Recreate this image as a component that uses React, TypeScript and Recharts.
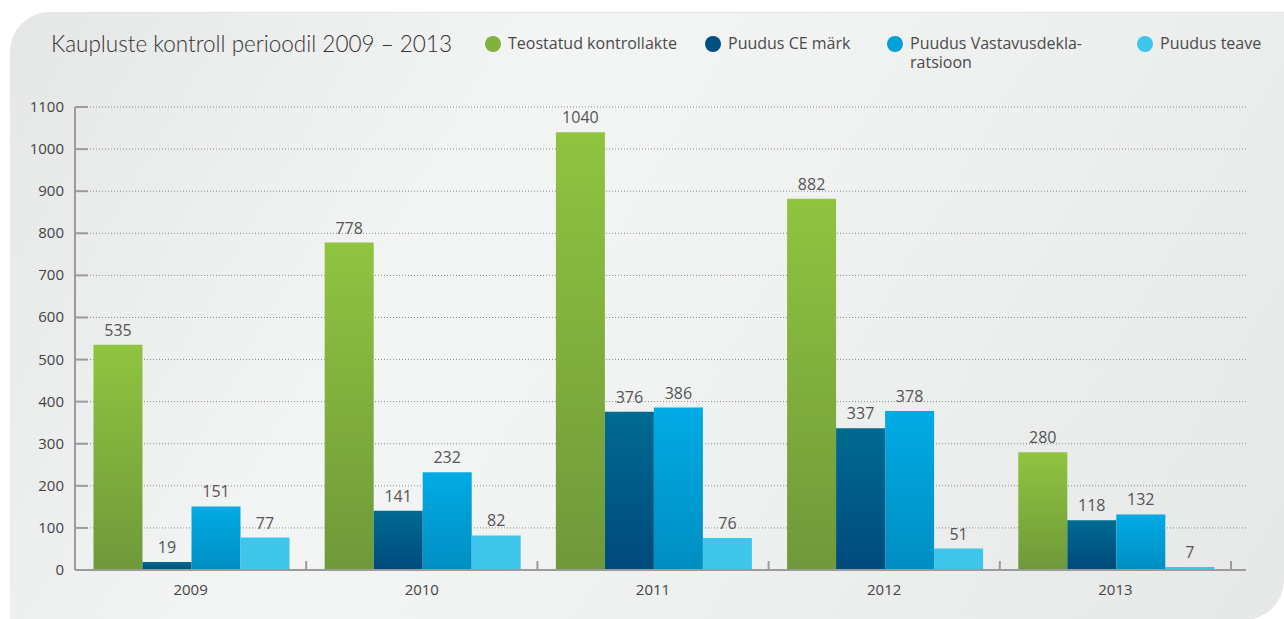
import React from 'react';
import { BarChart, Bar, XAxis, YAxis, CartesianGrid, LabelList } from 'recharts';

const years = ['2009', '2010', '2011', '2012', '2013'];
const kontrollakte = [535, 778, 1040, 882, 280];
const ceMark = [19, 141, 376, 337, 118];
const vastavus = [151, 232, 386, 378, 132];
const teave = [77, 82, 76, 51, 7];
const yTicks = [0, 100, 200, 300, 400, 500, 600, 700, 800, 900, 1000, 1100];

const series = [
  { key: 'kontrollakte', name: 'Teostatud kontrollakte', color: '#7fb13c', fill: 'url(#gGreen)' },
  { key: 'ceMark', name: 'Puudus CE märk', color: '#004f7f', fill: 'url(#gDark)' },
  { key: 'vastavus', name: 'Puudus Vastavusdekla-\nratsioon', color: '#00a0d8', fill: 'url(#gBlue)' },
  { key: 'teave', name: 'Puudus teave', color: '#3ec5ec', fill: '#3ec5ec' },
];

const data = years.map((year, i) => ({
  year,
  kontrollakte: kontrollakte[i],
  ceMark: ceMark[i],
  vastavus: vastavus[i],
  teave: teave[i],
}));

const W = 1284;
const H = 619;
const MARGIN = { top: 107, right: 38, bottom: 19, left: 0 };
const Y_W = 75;
const X_PAD_RIGHT = 15;
const HALF_BAND = (W - MARGIN.left - MARGIN.right - Y_W - X_PAD_RIGHT) / years.length / 2;

const FONT = '"Open Sans", sans-serif';
const AXIS = '#9b9b9b';

const YTick = (props: any) => {
  const { x, y, payload } = props;
  return (
    <g>
      <line x1={x + 11} x2={x + 24} y1={y} y2={y} stroke={AXIS} strokeWidth={2} />
      <text x={x} y={y} dy={5} textAnchor="end" fill="#444" fontSize={15} fontFamily={FONT}>
        {payload.value}
      </text>
    </g>
  );
};

const XTick = (props: any) => {
  const { x, y, payload } = props;
  return (
    <g>
      <line x1={x + HALF_BAND} x2={x + HALF_BAND} y1={y - 9} y2={y} stroke={AXIS} strokeWidth={2} />
      <text x={x} y={y} dy={25} textAnchor="middle" fill="#444" fontSize={15} fontFamily={FONT}>
        {payload.value}
      </text>
    </g>
  );
};

const itemWidths = [220, 182, 250, 140];

const LegendBox = () => (
  <div
    style={{
      position: 'absolute',
      left: 485,
      top: 34,
      display: 'flex',
      fontFamily: FONT,
      fontSize: 16,
      color: '#4a4a4a',
      lineHeight: '19px',
    }}
  >
    {series.map((s, i) => (
      <div key={s.key} style={{ width: itemWidths[i], display: 'flex', alignItems: 'flex-start', whiteSpace: 'nowrap' }}>
        <span
          style={{
            display: 'inline-block',
            width: 16,
            height: 16,
            borderRadius: 8,
            background: s.color,
            marginRight: 7,
            marginTop: 2,
            flexShrink: 0,
          }}
        />
        <span style={{ whiteSpace: 'pre' }}>{s.name}</span>
      </div>
    ))}
  </div>
);

export default function App() {
  return (
    <div style={{ position: 'fixed', left: 0, top: 0, width: W, height: H, background: '#fff', overflow: 'hidden' }}>
      <div
        style={{
          position: 'absolute',
          left: 10,
          top: 12,
          width: W - 10,
          height: H - 12,
          borderRadius: '40px 0 40px 0',
          background: 'linear-gradient(120deg, #e5e6e6 0%, #f3f4f4 35%, #f0f1f1 55%, #e6e7e7 100%)',
          borderTop: '1px solid #e2e3e3',
        }}
      />
      <div
        style={{
          position: 'absolute',
          left: 51,
          top: 30,
          fontFamily: 'Lato, sans-serif',
          fontWeight: 300,
          fontSize: 22.5,
          color: '#333',
        }}
      >
        Kaupluste kontroll perioodil 2009 – 2013
      </div>
      <LegendBox />
      <div style={{ position: 'absolute', left: 0, top: 0 }}>
        <BarChart width={W} height={H} data={data} margin={MARGIN} barCategoryGap="8%" barGap={0}>
          <defs>
            <linearGradient id="gGreen" x1="0" y1="0" x2="0" y2="1">
              <stop offset="0%" stopColor="#8fc43f" />
              <stop offset="100%" stopColor="#6f993a" />
            </linearGradient>
            <linearGradient id="gDark" x1="0" y1="0" x2="0" y2="1">
              <stop offset="0%" stopColor="#006b90" />
              <stop offset="100%" stopColor="#004a7c" />
            </linearGradient>
            <linearGradient id="gBlue" x1="0" y1="0" x2="0" y2="1">
              <stop offset="0%" stopColor="#00abe5" />
              <stop offset="100%" stopColor="#008ec2" />
            </linearGradient>
          </defs>
          <CartesianGrid vertical={false} stroke="#8a8a8a" strokeDasharray="1 2" />
          <XAxis
            dataKey="year"
            height={30}
            padding={{ left: 0, right: X_PAD_RIGHT }}
            axisLine={{ stroke: AXIS, strokeWidth: 2 }}
            tickLine={false}
            tickSize={0}
            tickMargin={0}
            tick={<XTick />}
            interval={0}
          />
          <YAxis
            width={Y_W}
            domain={[0, 1100]}
            ticks={yTicks}
            interval={0}
            axisLine={{ stroke: AXIS, strokeWidth: 2 }}
            tickLine={false}
            tickSize={0}
            tickMargin={11}
            tick={<YTick />}
          />
          {series.map((s) => (
            <Bar key={s.key} dataKey={s.key} name={s.name} fill={s.fill} isAnimationActive={false}>
              <LabelList
                dataKey={s.key}
                position="top"
                offset={9}
                fill="#555"
                fontSize={16}
                fontFamily={FONT}
              />
            </Bar>
          ))}
        </BarChart>
      </div>
    </div>
  );
}
